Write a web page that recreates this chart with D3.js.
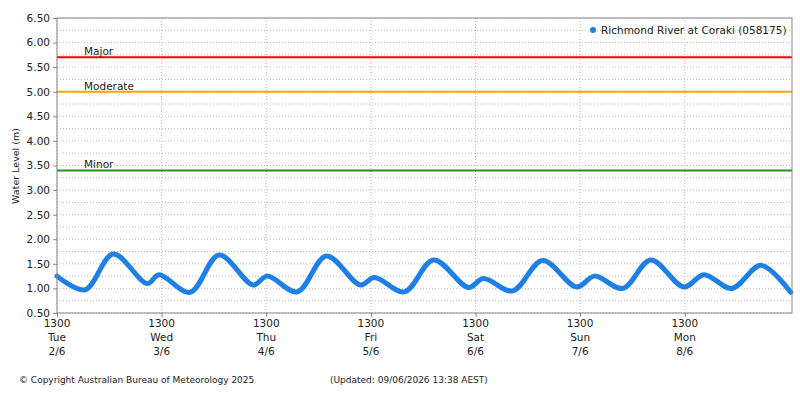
<!DOCTYPE html>
<html><head><meta charset="utf-8">
<script src="https://cdn.jsdelivr.net/npm/d3@7"></script>
<style>body{margin:0;background:#fff}text{font-family:"DejaVu Sans",sans-serif}</style>
</head><body><svg id="c" width="800" height="400"></svg>
<script>
// hours after Tue 2/6 13:00 and water level (m) at tidal turning points
const hours = [0,6.4,12.9,20.7,23.4,30.5,37.2,45.0,48.2,55.1,61.8,69.6,72.8,79.7,86.4,94.4,97.8,104.5,111.4,119.2,123.3,129.8,136.2,143.8,148.4,154.8,161.5,168.3];
const levels = [1.25,0.97,1.70,1.10,1.28,0.92,1.68,1.07,1.25,0.93,1.66,1.07,1.22,0.93,1.58,1.02,1.20,0.95,1.57,1.03,1.25,1.00,1.58,1.03,1.28,1.00,1.47,0.92];
const dayNames = ["Tue","Wed","Thu","Fri","Sat","Sun","Mon"];
const dayDates = ["2/6","3/6","4/6","5/6","6/6","7/6","8/6"];
const yTicks = d3.range(0.5,6.51,0.25);
const thresholds = [{name:"Minor",v:3.4,c:"#2e8b1e"},{name:"Moderate",v:5.0,c:"#ffa500"},{name:"Major",v:5.7,c:"#ff0000"}];

const svg=d3.select("#c");
const L=57,R=792,T=18,B=313;
const x=d3.scaleLinear().domain([0,168.6]).range([L,R]);
const y=d3.scaleLinear().domain([0.5,6.5]).range([B,T]);

svg.append("g").selectAll("line").data(yTicks).join("line")
 .attr("x1",L).attr("x2",R).attr("y1",d=>y(d)).attr("y2",d=>y(d))
 .attr("stroke","#bbb").attr("stroke-dasharray","1,2");
svg.append("g").selectAll("line").data(d3.range(7)).join("line")
 .attr("x1",d=>x(d*24)).attr("x2",d=>x(d*24)).attr("y1",T).attr("y2",B)
 .attr("stroke","#bbb").attr("stroke-dasharray","1,2");

thresholds.forEach(t=>{
 svg.append("line").attr("x1",L).attr("x2",R).attr("y1",y(t.v)).attr("y2",y(t.v)).attr("stroke",t.c).attr("stroke-width",2);
 svg.append("text").attr("x",84).attr("y",y(t.v)-2).attr("font-size",10.5).attr("fill","#222").text(t.name);
});

const pts=hours.map((h,i)=>[h,levels[i]]);
svg.append("path").datum(pts).attr("fill","none").attr("stroke","#1e7fe6").attr("stroke-width",5)
 .attr("stroke-linejoin","round").attr("stroke-linecap","round")
 .attr("d",d3.line().x(d=>x(d[0])).y(d=>y(d[1])).curve(d3.curveCatmullRom.alpha(0.5)));

svg.append("rect").attr("x",L).attr("y",T).attr("width",R-L).attr("height",B-T).attr("fill","none").attr("stroke","#888");

const ya=svg.append("g").attr("transform",`translate(${L},0)`).call(d3.axisLeft(y).tickValues(d3.range(0.5,6.51,0.5)).tickFormat(d3.format(".2f")).tickSize(4));
ya.select(".domain").remove();
ya.selectAll("text").attr("font-size",10.5).attr("fill","#222").attr("font-family","DejaVu Sans");
ya.selectAll("line").attr("stroke","#888");

const xa=svg.append("g").attr("transform",`translate(0,${B})`).call(d3.axisBottom(x).tickValues(d3.range(7).map(d=>d*24)).tickFormat("").tickSize(4));
xa.select(".domain").remove(); xa.selectAll("line").attr("stroke","#888");
const lab=svg.append("g").selectAll("text").data(d3.range(7)).join("text").attr("text-anchor","middle").attr("font-size",10.5).attr("fill","#222");
lab.append("tspan").attr("x",d=>x(d*24)).attr("y",327).text("1300");
lab.append("tspan").attr("x",d=>x(d*24)).attr("y",341).text(d=>dayNames[d]);
lab.append("tspan").attr("x",d=>x(d*24)).attr("y",355).text(d=>dayDates[d]);

svg.append("text").attr("transform","translate(19,166) rotate(-90)").attr("text-anchor","middle").attr("font-size",9.5).attr("font-family","DejaVu Sans Mono").attr("fill","#222").text("Water Level (m)");

svg.append("circle").attr("cx",593).attr("cy",30).attr("r",3).attr("fill","#1e7fe6");
svg.append("text").attr("x",601).attr("y",34).attr("font-size",10.5).attr("fill","#222").text("Richmond River at Coraki (058175)");

svg.append("text").attr("x",19).attr("y",383).attr("font-size",9).attr("fill","#222").text("© Copyright Australian Bureau of Meteorology 2025");
svg.append("text").attr("x",330).attr("y",383).attr("font-size",9).attr("fill","#222").text("(Updated: 09/06/2026 13:38 AEST)");
</script></body></html>
